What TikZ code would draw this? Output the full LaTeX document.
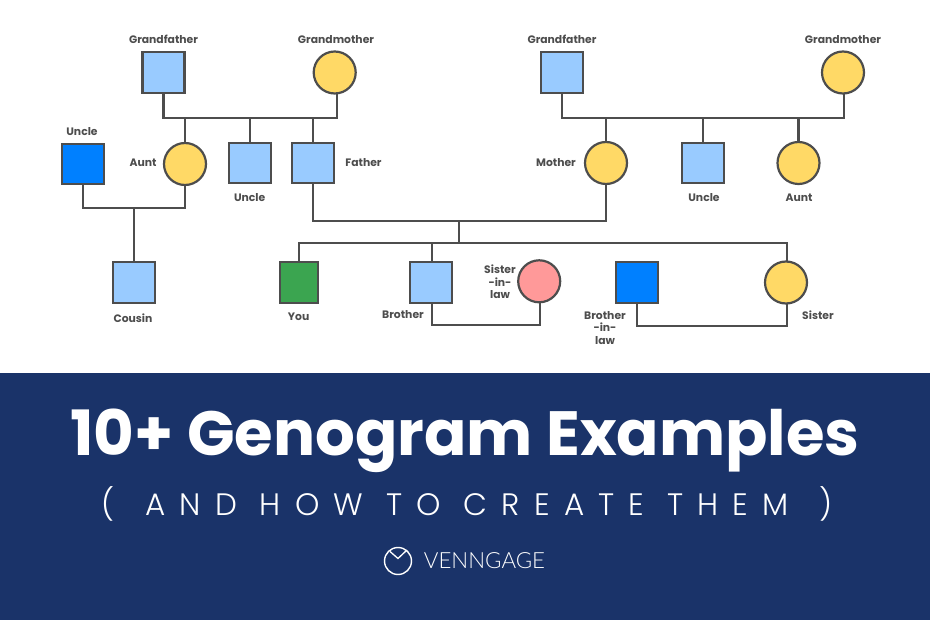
\documentclass[tikz,border=0pt]{standalone}
\usepackage{fontspec}
\setmainfont{Poppins}
\definecolor{lblue}{HTML}{99CBFF}
\definecolor{dblue}{HTML}{0080FF}
\definecolor{yel}{HTML}{FFD966}
\definecolor{grn}{HTML}{3BA550}
\definecolor{pnk}{HTML}{FF9999}
\definecolor{ln}{HTML}{4D4D4D}
\definecolor{navy}{HTML}{1A3369}
\tikzset{
 sq/.style={draw=ln,line width=2.2pt,minimum width=42pt,minimum height=40.5pt,inner sep=0,outer sep=0},
 lsq/.style={sq,fill=lblue},
 dsq/.style={sq,fill=dblue},
 ci/.style={circle,draw=ln,line width=2.2pt,minimum size=42pt,inner sep=0,outer sep=0,fill=yel},
 lab/.style={font=\fontsize{10.8}{12.9}\selectfont\bfseries,text=ln,align=center,inner sep=0},
 wire/.style={draw=ln,line width=2.2pt},
}
\begin{document}
\begin{tikzpicture}[x=1pt,y=-1pt]
\useasboundingbox (0,0) rectangle (930,620);
\fill[white] (0,0) rectangle (930,620);
\fill[navy] (0,373) rectangle (930,620);
% nodes
\node[lsq] (gf1) at (163.5,72.5) {};
\node[ci] (gm1) at (334.7,72.5) {};
\node[lsq] (gf2) at (562,72.5) {};
\node[ci] (gm2) at (843,72.5) {};
\node[dsq] (un0) at (82.7,164) {};
\node[ci] (au1) at (185,164) {};
\node[lsq] (un1) at (249.7,163) {};
\node[lsq] (fa) at (313.3,163) {};
\node[ci] (mo) at (606,163) {};
\node[lsq] (un2) at (703,163) {};
\node[ci] (au2) at (798.5,163) {};
\node[lsq] (co) at (133.7,282.5) {};
\node[sq,fill=grn,minimum width=38pt] (yo) at (298.7,282.5) {};
\node[lsq] (br) at (430.7,282.5) {};
\node[ci,fill=pnk] (si) at (539.2,281.3) {};
\node[dsq] (bl) at (637.3,282.5) {};
\node[ci] (ss) at (786,282.5) {};
% junctions
\coordinate (j1) at (163.5,118.3);
\coordinate (j2) at (134.3,207.7);
\coordinate (j3) at (458.7,220.7);
\coordinate (j4) at (458.7,243);
\coordinate (j5) at (562,118.3);
% connectors
\draw[wire] (gf1.south) |- (j1) -| ([xshift=2pt]gm1.south);
\draw[wire] (au1.north) -- (au1.north |- j1);
\draw[wire] (un1.north) -- (un1.north |- j1);
\draw[wire] (fa.north) -- (fa.north |- j1);
\draw[wire] (un0.south) |- (j2) -| (au1.south);
\draw[wire] (j2) -- (j2 |- co.north);
\draw[wire] (fa.south) |- (j3) -| (mo.south);
\draw[wire] (j3) -- (j4);
\draw[wire] (yo.north) |- (j4) -| ([xshift=0.7pt]ss.north);
\draw[wire] ([xshift=1pt]br.north) -- ([xshift=1pt]br.north |- j4);
\draw[wire] ([xshift=1pt]br.south) |- (540,325) -- ([xshift=0.8pt]si.south);
\draw[wire] (bl.south) |- (786.7,325.7) -- ([xshift=0.7pt]ss.south);
\draw[wire] (gf2.south) |- (j5) -| ([xshift=1pt]gm2.south);
\draw[wire] (mo.north) -- (mo.north |- j5);
\draw[wire] (un2.north) -- (un2.north |- j5);
\draw[wire] (au2.north) -- (au2.north |- j5);
% labels
\node[lab] (l1) at (163.5,39.3) {Grandfather};
\node[lab] (l2) at (336,39.3) {Grandmother};
\node[lab] (l3) at (562,39.3) {Grandfather};
\node[lab] (l4) at (843,39.3) {Grandmother};
\node[lab] (l5) at (82,131.5) {Uncle};
\node[lab] (l6) at (143,163) {Aunt};
\node[lab] (l7) at (249.7,197.5) {Uncle};
\node[lab] (l8) at (363.5,163) {Father};
\node[lab] (l9) at (556,163) {Mother};
\node[lab] (l10) at (704,197.5) {Uncle};
\node[lab] (l11) at (799,197.5) {Aunt};
\node[lab] (l12) at (133,318) {Cousin};
\node[lab] (l13) at (298.7,317) {You};
\node[lab] (l14) at (403,315) {Brother};
\node[lab] (l15) at (500,281.8) {Sister\\-in-\\law};
\node[lab] (l16) at (605,328) {Brother\\-in-\\law};
\node[lab] (l17) at (818,315) {Sister};
% banner
\node[font=\fontsize{62.5}{70}\selectfont\bfseries,text=white,inner sep=0] (title) at (465,441) {10+ Genogram Examples};
\node[font=\fontsize{31}{34}\selectfont,text=white,inner sep=0] (sub) at (467,504) {\fontspec[LetterSpace=46]{Poppins Light}(\hspace{0.25em} AND HOW TO CREATE THEM \hspace{0.25em})};
\node[circle,draw=white,line width=1.4pt,minimum size=27pt,inner sep=0] (logo) at (398,561) {};
\draw[white,line width=1.3pt] (390,551.5) -- (398,558.5) -- (407,550);
\node[font=\fontsize{22.3}{24}\selectfont,text=white,inner sep=0] (vg) at (484.5,561) {\fontspec{Lato Light}VENNGAGE};
\end{tikzpicture}
\end{document}
